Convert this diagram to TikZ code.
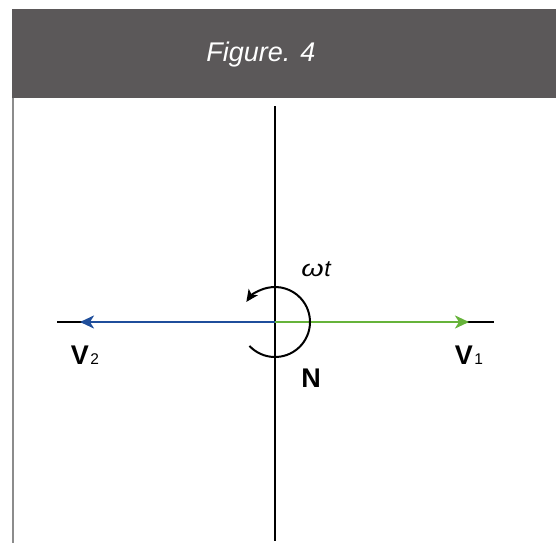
\documentclass[tikz,border=0pt]{standalone}
\usepackage{fontspec}
\setmainfont{Liberation Sans}
\usetikzlibrary{arrows.meta}
\definecolor{hdr}{HTML}{5B5859}
\definecolor{brd}{HTML}{8C8C8C}
\definecolor{vblue}{HTML}{1F4E9B}
\definecolor{vgreen}{HTML}{66B33A}
\begin{document}
\begin{tikzpicture}[x=1pt,y=-1pt,
  axis/.style={line width=2pt,black},
  vec/.style={line width=2.4pt,-{Stealth[length=14pt,width=13pt,inset=4pt]}},
  lbl/.style={anchor=base,inner sep=0pt,font=\fontsize{27}{27}\selectfont\bfseries}]
\useasboundingbox (0,0) rectangle (556,543);
% header
\fill[hdr] (12,9) rectangle (556,98);
\node[anchor=base,inner sep=0pt,text=white,font=\fontsize{27}{27}\selectfont\itshape] (title) at (261,62) {Figure. 4};
% left border
\draw[brd,line width=1.5pt] (13,98) -- (13,543);
% axes
\coordinate (O) at (275,322);
\coordinate (T) at (275,106);
\coordinate (B) at (275,541);
\coordinate (L) at (57,322);
\coordinate (R) at (494,322);
\coordinate (tipL) at (80,322);
\coordinate (tipR) at (469,322);
\draw[axis] (T) -- (B);
\draw[axis] (L) -- (R);
\draw[vec,vblue] (O) -- (tipL);
\draw[vec,vgreen] (O) -- (tipR);
% rotation arc
\draw[line width=2pt,-{Stealth[length=12pt,width=11pt,inset=3pt]}] (O) ++(137:35) arc[start angle=137,end angle=-145,radius=35];
% labels
\node[lbl] (v1) at (469,364) {V\kern1.5pt\raisebox{-0.5pt}{\fontsize{15.5}{15.5}\selectfont\mdseries 1}};
\node[lbl] (v2) at (85,364) {V\kern1.5pt\raisebox{-0.5pt}{\fontsize{15.5}{15.5}\selectfont\mdseries 2}};
\node[lbl] (n) at (311,387) {N};
\node[anchor=base,inner sep=0pt,font=\fontsize{23}{23}\selectfont\itshape] (wt) at (316,276) {\scalebox{1.25}[1]{ω}\kern0.5pt t};
\end{tikzpicture}
\end{document}
